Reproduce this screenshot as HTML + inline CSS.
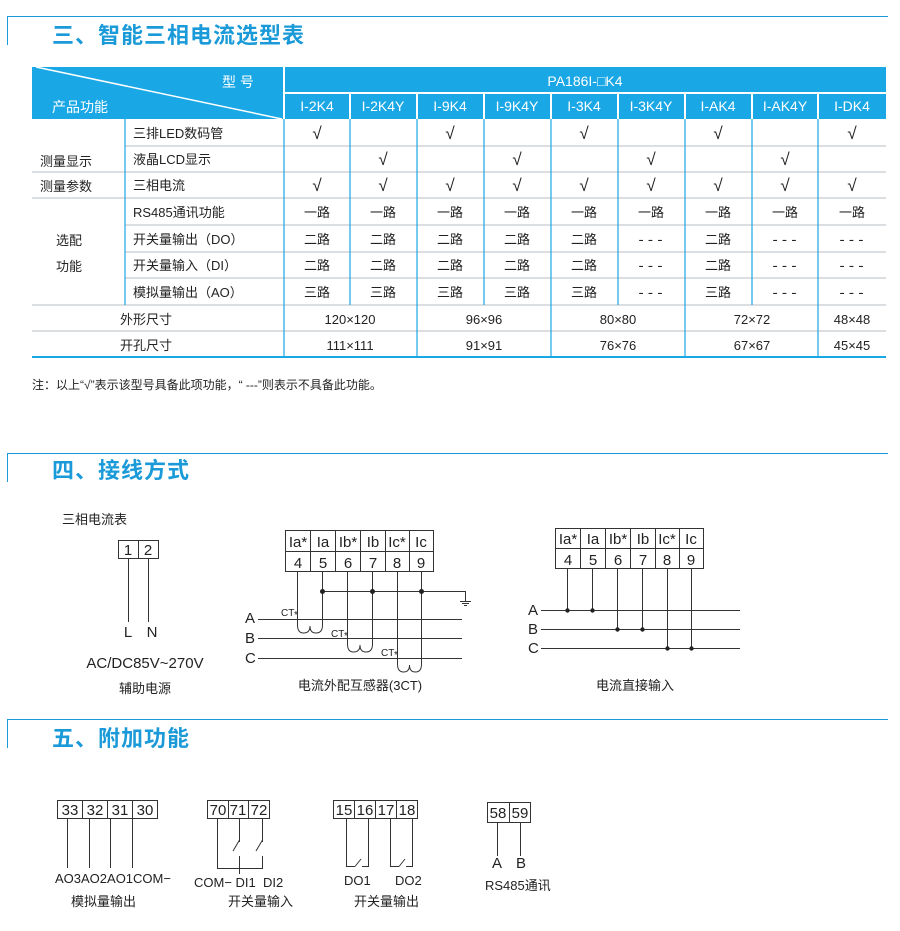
<!DOCTYPE html>
<html><head><meta charset="utf-8"><style>
html,body{margin:0;padding:0;background:#fff;}
svg{display:block;font-family:"Liberation Sans","Noto Sans CJK SC",sans-serif;}
.t{fill:#1a9ad8;font-size:22px;font-weight:bold;letter-spacing:1px;}
.c{font-size:13px;fill:#222;}
.w{fill:#fff;font-size:14px;}
.n{font-size:15px;fill:#222;}
.k{font-size:17px;}
.d{font-family:"Liberation Mono",monospace;font-size:14px;letter-spacing:1px;}
</style></head><body>
<svg width="900" height="931" viewBox="0 0 900 931" xmlns="http://www.w3.org/2000/svg">
<g stroke="#1a9ad8" stroke-width="1" fill="none">
<path d="M7.5 45V16.5H888"/><path d="M7.5 482V453.5H888"/><path d="M7.5 748V719.5H888"/>
</g>
<text x="52" y="43" class="t">三、智能三相电流选型表</text>
<text x="52" y="478" class="t">四、接线方式</text>
<text x="52" y="746" class="t">五、附加功能</text>

<rect x="32" y="67" width="854" height="52" fill="#1aa7e6"/>
<g stroke="#fff" stroke-width="2">
<line x1="284" y1="67" x2="284" y2="119"/><line x1="284" y1="93" x2="886" y2="93"/>
<line x1="350" y1="93" x2="350" y2="119"/><line x1="417" y1="93" x2="417" y2="119"/><line x1="484" y1="93" x2="484" y2="119"/><line x1="551" y1="93" x2="551" y2="119"/><line x1="618" y1="93" x2="618" y2="119"/><line x1="685" y1="93" x2="685" y2="119"/><line x1="752" y1="93" x2="752" y2="119"/><line x1="818" y1="93" x2="818" y2="119"/>
<line x1="36" y1="67" x2="282" y2="119" stroke-width="1.5"/>
</g>
<text x="222" y="87" class="w" font-size="16">型 号</text>
<text x="52" y="112" class="w">产品功能</text>
<text x="585" y="86" class="w" text-anchor="middle" font-size="13">PA186I-□K4</text>
<g class="w" text-anchor="middle" font-size="13">
<text x="317" y="111" fill="#fff">I-2K4</text><text x="383" y="111" fill="#fff">I-2K4Y</text><text x="450" y="111" fill="#fff">I-9K4</text><text x="517" y="111" fill="#fff">I-9K4Y</text><text x="584" y="111" fill="#fff">I-3K4</text><text x="651" y="111" fill="#fff">I-3K4Y</text><text x="718" y="111" fill="#fff">I-AK4</text><text x="785" y="111" fill="#fff">I-AK4Y</text><text x="852" y="111" fill="#fff">I-DK4</text>
</g>
<g stroke="#c8ccd0" stroke-width="1.2">
<line x1="125" y1="146" x2="886" y2="146"/><line x1="32" y1="172" x2="886" y2="172"/><line x1="32" y1="198" x2="886" y2="198"/>
<line x1="125" y1="225" x2="886" y2="225"/><line x1="125" y1="252" x2="886" y2="252"/><line x1="125" y1="278" x2="886" y2="278"/>
<line x1="32" y1="305" x2="886" y2="305"/><line x1="32" y1="331" x2="886" y2="331"/>
</g>
<g stroke="#1aa7e6" stroke-width="1.2">
<line x1="32" y1="357" x2="886" y2="357" stroke-width="2"/>
<line x1="125" y1="119" x2="125" y2="305"/><line x1="284" y1="119" x2="284" y2="357"/>
<line x1="350" y1="119" x2="350" y2="305"/><line x1="417" y1="119" x2="417" y2="357"/><line x1="484" y1="119" x2="484" y2="305"/><line x1="551" y1="119" x2="551" y2="357"/><line x1="618" y1="119" x2="618" y2="305"/><line x1="685" y1="119" x2="685" y2="357"/><line x1="752" y1="119" x2="752" y2="305"/><line x1="818" y1="119" x2="818" y2="357"/>
</g>
<g class="c">
<text x="40" y="166">测量显示</text><text x="40" y="191">测量参数</text>
<text x="56" y="245">选配</text><text x="56" y="271">功能</text>
<text x="133" y="138">三排LED数码管</text><text x="133" y="164">液晶LCD显示</text><text x="133" y="190">三相电流</text>
<text x="133" y="217">RS485通讯功能</text><text x="133" y="244">开关量输出（DO）</text><text x="133" y="270">开关量输入（DI）</text><text x="133" y="297">模拟量输出（AO）</text>
<text x="120" y="324">外形尺寸</text><text x="120" y="350">开孔尺寸</text>
</g>
<g class="c k" text-anchor="middle">
<text x="317" y="139">√</text><text x="450" y="139">√</text><text x="584" y="139">√</text><text x="718" y="139">√</text><text x="852" y="139">√</text>
<text x="383" y="165">√</text><text x="517" y="165">√</text><text x="651" y="165">√</text><text x="785" y="165">√</text>
<text x="317" y="191">√</text><text x="383" y="191">√</text><text x="450" y="191">√</text><text x="517" y="191">√</text><text x="584" y="191">√</text><text x="651" y="191">√</text><text x="718" y="191">√</text><text x="785" y="191">√</text><text x="852" y="191">√</text>
</g>
<g class="c" text-anchor="middle">
<text x="317" y="217">一路</text><text x="383" y="217">一路</text><text x="450" y="217">一路</text><text x="517" y="217">一路</text><text x="584" y="217">一路</text><text x="651" y="217">一路</text><text x="718" y="217">一路</text><text x="785" y="217">一路</text><text x="852" y="217">一路</text>
<text x="317" y="244">二路</text><text x="383" y="244">二路</text><text x="450" y="244">二路</text><text x="517" y="244">二路</text><text x="584" y="244">二路</text><text x="651" y="244" class="d">---</text><text x="718" y="244">二路</text><text x="785" y="244" class="d">---</text><text x="852" y="244" class="d">---</text>
<text x="317" y="270">二路</text><text x="383" y="270">二路</text><text x="450" y="270">二路</text><text x="517" y="270">二路</text><text x="584" y="270">二路</text><text x="651" y="270" class="d">---</text><text x="718" y="270">二路</text><text x="785" y="270" class="d">---</text><text x="852" y="270" class="d">---</text>
<text x="317" y="297">三路</text><text x="383" y="297">三路</text><text x="450" y="297">三路</text><text x="517" y="297">三路</text><text x="584" y="297">三路</text><text x="651" y="297" class="d">---</text><text x="718" y="297">三路</text><text x="785" y="297" class="d">---</text><text x="852" y="297" class="d">---</text>
<text x="350" y="324">120×120</text><text x="484" y="324">96×96</text><text x="618" y="324">80×80</text><text x="752" y="324">72×72</text><text x="852" y="324">48×48</text>
<text x="350" y="350">111×111</text><text x="484" y="350">91×91</text><text x="618" y="350">76×76</text><text x="752" y="350">67×67</text><text x="852" y="350">45×45</text>
</g>
<text x="32" y="389" font-size="12" fill="#222">注：以上“√”表示该型号具备此项功能，“ ---”则表示不具备此功能。</text>

<text x="62" y="524" class="c">三相电流表</text>
<g stroke="#333" fill="none" stroke-width="1">
<rect x="118.5" y="540.5" width="40" height="18"/><line x1="138.5" y1="540" x2="138.5" y2="559"/>
<line x1="128.5" y1="559" x2="128.5" y2="622"/><line x1="148.5" y1="559" x2="148.5" y2="622"/>
</g>
<g class="n" text-anchor="middle"><text x="128" y="555">1</text><text x="148" y="555">2</text><text x="128" y="637">L</text><text x="152" y="637">N</text>
<text x="145" y="668">AC/DC85V~270V</text></g>
<text x="145" y="693" class="c" text-anchor="middle">辅助电源</text>

<g stroke="#333" fill="none" stroke-width="1">
<rect x="285.5" y="530.5" width="148" height="41"/><line x1="285" y1="551.5" x2="433" y2="551.5"/>
<line x1="310.5" y1="530" x2="310.5" y2="572"/><line x1="335.5" y1="530" x2="335.5" y2="572"/><line x1="360.5" y1="530" x2="360.5" y2="572"/><line x1="385.5" y1="530" x2="385.5" y2="572"/><line x1="409.5" y1="530" x2="409.5" y2="572"/>
<line x1="297.5" y1="572" x2="297.5" y2="625"/><line x1="322.5" y1="572" x2="322.5" y2="625"/>
<line x1="347.5" y1="572" x2="347.5" y2="644"/><line x1="372.5" y1="572" x2="372.5" y2="644"/>
<line x1="397.5" y1="572" x2="397.5" y2="664"/><line x1="421.5" y1="572" x2="421.5" y2="664"/>
<line x1="322" y1="591.5" x2="465.5" y2="591.5"/><line x1="465.5" y1="591" x2="465.5" y2="601"/>
<line x1="460" y1="601.5" x2="471" y2="601.5"/><line x1="462" y1="603.5" x2="469" y2="603.5"/><line x1="464" y1="605.5" x2="467" y2="605.5"/>
<line x1="258" y1="619.5" x2="462" y2="619.5"/><line x1="258" y1="638.5" x2="462" y2="638.5"/><line x1="258" y1="658.5" x2="462" y2="658.5"/>
<path d="M297.5 625 Q297.5 633 303.5 633 Q310 633 310 626 Q310 633 316 633 Q322.5 633 322.5 625"/>
<path d="M347.5 644 Q347.5 652 353.5 652 Q360 652 360 645 Q360 652 366 652 Q372.5 652 372.5 644"/>
<path d="M397.5 664 Q397.5 672 403.5 672 Q409.5 672 409.5 665 Q409.5 672 415.5 672 Q421.5 672 421.5 664"/>
</g>
<g fill="#222"><circle cx="322.5" cy="591.5" r="2.5"/><circle cx="372.5" cy="591.5" r="2.5"/><circle cx="421.5" cy="591.5" r="2.5"/></g>
<g class="n" text-anchor="middle" font-size="14">
<text x="298" y="547">Ia*</text><text x="323" y="547">Ia</text><text x="348" y="547">Ib*</text><text x="373" y="547">Ib</text><text x="397" y="547">Ic*</text><text x="421" y="547">Ic</text>
<text x="298" y="568">4</text><text x="323" y="568">5</text><text x="348" y="568">6</text><text x="373" y="568">7</text><text x="397" y="568">8</text><text x="421" y="568">9</text>
</g>
<g class="n" font-size="14"><text x="245" y="623">A</text><text x="245" y="643">B</text><text x="245" y="663">C</text></g>
<g font-size="10" fill="#222"><text x="281" y="616">CT</text><text x="294" y="618">*</text><text x="331" y="637">CT</text><text x="344" y="639">*</text><text x="381" y="656">CT</text><text x="394" y="658">*</text></g>
<text x="360" y="690" class="c" text-anchor="middle">电流外配互感器(3CT)</text>

<g stroke="#333" fill="none" stroke-width="1">
<rect x="555.5" y="528.5" width="148" height="40"/><line x1="555" y1="548.5" x2="703" y2="548.5"/>
<line x1="580.5" y1="528" x2="580.5" y2="569"/><line x1="605.5" y1="528" x2="605.5" y2="569"/><line x1="630.5" y1="528" x2="630.5" y2="569"/><line x1="655.5" y1="528" x2="655.5" y2="569"/><line x1="679.5" y1="528" x2="679.5" y2="569"/>
<line x1="567.5" y1="569" x2="567.5" y2="610"/><line x1="592.5" y1="569" x2="592.5" y2="610"/>
<line x1="617.5" y1="569" x2="617.5" y2="629"/><line x1="642.5" y1="569" x2="642.5" y2="629"/>
<line x1="667.5" y1="569" x2="667.5" y2="648"/><line x1="691.5" y1="569" x2="691.5" y2="648"/>
<line x1="541" y1="610.5" x2="740" y2="610.5"/><line x1="541" y1="629.5" x2="740" y2="629.5"/><line x1="541" y1="648.5" x2="740" y2="648.5"/>
</g>
<g fill="#222"><circle cx="567.5" cy="610.5" r="2.2"/><circle cx="592.5" cy="610.5" r="2.2"/><circle cx="617.5" cy="629.5" r="2.2"/><circle cx="642.5" cy="629.5" r="2.2"/><circle cx="667.5" cy="648.5" r="2.2"/><circle cx="691.5" cy="648.5" r="2.2"/></g>
<g class="n" text-anchor="middle" font-size="14">
<text x="568" y="544">Ia*</text><text x="593" y="544">Ia</text><text x="618" y="544">Ib*</text><text x="643" y="544">Ib</text><text x="667" y="544">Ic*</text><text x="691" y="544">Ic</text>
<text x="568" y="565">4</text><text x="593" y="565">5</text><text x="618" y="565">6</text><text x="643" y="565">7</text><text x="667" y="565">8</text><text x="691" y="565">9</text>
</g>
<g class="n" font-size="14"><text x="528" y="615">A</text><text x="528" y="634">B</text><text x="528" y="653">C</text></g>
<text x="635" y="690" class="c" text-anchor="middle">电流直接输入</text>

<g stroke="#333" fill="none" stroke-width="1">
<rect x="57.5" y="800.5" width="100" height="18"/><line x1="82.5" y1="800" x2="82.5" y2="819"/><line x1="107.5" y1="800" x2="107.5" y2="819"/><line x1="132.5" y1="800" x2="132.5" y2="819"/>
<line x1="67.5" y1="819" x2="67.5" y2="868"/><line x1="89.5" y1="819" x2="89.5" y2="868"/><line x1="110.5" y1="819" x2="110.5" y2="868"/><line x1="132.5" y1="819" x2="132.5" y2="868"/>

<rect x="207.5" y="800.5" width="62" height="18"/><line x1="228.5" y1="800" x2="228.5" y2="819"/><line x1="248.5" y1="800" x2="248.5" y2="819"/>
<line x1="217.5" y1="819" x2="217.5" y2="868.5"/><line x1="217" y1="868.5" x2="263" y2="868.5"/>
<line x1="239.5" y1="819" x2="239.5" y2="842"/><line x1="239.5" y1="840" x2="233" y2="851"/><line x1="239.5" y1="856" x2="239.5" y2="874"/>
<line x1="262.5" y1="819" x2="262.5" y2="842"/><line x1="262.5" y1="840" x2="256" y2="851"/><line x1="262.5" y1="856" x2="262.5" y2="869"/>

<rect x="333.5" y="800.5" width="84" height="18"/><line x1="354.5" y1="800" x2="354.5" y2="819"/><line x1="375.5" y1="800" x2="375.5" y2="819"/><line x1="396.5" y1="800" x2="396.5" y2="819"/>
<line x1="346.5" y1="819" x2="346.5" y2="866.5"/><line x1="346" y1="866.5" x2="355" y2="866.5"/><line x1="355" y1="866.5" x2="361" y2="859"/><line x1="362" y1="866.5" x2="369" y2="866.5"/><line x1="368.5" y1="819" x2="368.5" y2="867"/>
<line x1="390.5" y1="819" x2="390.5" y2="866.5"/><line x1="390" y1="866.5" x2="399" y2="866.5"/><line x1="399" y1="866.5" x2="405" y2="859"/><line x1="406" y1="866.5" x2="413" y2="866.5"/><line x1="412.5" y1="819" x2="412.5" y2="867"/>

<rect x="487.5" y="802.5" width="43" height="20"/><line x1="509.5" y1="802" x2="509.5" y2="823"/>
<line x1="497.5" y1="823" x2="497.5" y2="856"/><line x1="520.5" y1="823" x2="520.5" y2="856"/>
</g>
<g class="n" font-size="14" text-anchor="middle">
<text x="70" y="815">33</text><text x="95" y="815">32</text><text x="120" y="815">31</text><text x="145" y="815">30</text>
<text x="218" y="815">70</text><text x="238" y="815">71</text><text x="259" y="815">72</text>
<text x="344" y="815">15</text><text x="365" y="815">16</text><text x="386" y="815">17</text><text x="407" y="815">18</text>
<text x="498" y="818">58</text><text x="520" y="818">59</text>
<text x="497" y="868">A</text><text x="521" y="868">B</text>
</g>
<g font-size="13" fill="#222">
<text x="55" y="883">AO3AO2AO1COM−</text>
<text x="194" y="887">COM− DI1&#160; DI2</text>
<text x="344" y="885">DO1</text><text x="395" y="885">DO2</text>
<text x="485" y="890">RS485通讯</text>
<text x="71" y="906">模拟量输出</text><text x="228" y="906">开关量输入</text><text x="354" y="906">开关量输出</text>
</g>
</svg>
</body></html>
